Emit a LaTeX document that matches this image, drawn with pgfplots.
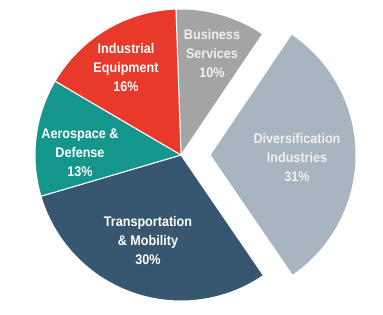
\documentclass[border=0pt]{standalone}
\usepackage{pgfplots}
\pgfplotsset{compat=1.18}
\usepackage{fontspec}
\setmainfont{Liberation Sans}[FakeStretch=0.9]
\definecolor{cBus}{HTML}{A4A4A4}
\definecolor{cDiv}{HTML}{A8B4C0}
\definecolor{cTra}{HTML}{36576F}
\definecolor{cAer}{HTML}{14968D}
\definecolor{cInd}{HTML}{E8392B}
\tikzset{lbl/.style={text=white,align=center,font=\bfseries\fontsize{14}{19}\selectfont}}
\begin{document}
\begin{tikzpicture}
\def\pBus{10}\def\pDiv{31}\def\pTra{30}\def\pAer{13}\def\pInd{16}
\pgfmathsetmacro\aA{92}
\pgfmathsetmacro\aB{\aA-3.6*\pBus}
\pgfmathsetmacro\aC{\aB-3.6*\pDiv}
\pgfmathsetmacro\aD{\aC-3.6*\pTra}
\pgfmathsetmacro\aE{\aD-3.6*\pAer}
\pgfmathsetmacro\aF{\aE-3.6*\pInd}
\begin{axis}[width=383pt,height=314pt,scale only axis,
  xmin=0,xmax=383,ymin=0,ymax=314,hide axis,clip=false,
  every axis plot/.append style={draw=white,line width=1pt,samples=80,variable=\t,line join=round}]
\addplot[fill=cBus,domain=\aB:\aA] ({181+146*cos(\t)},{159+146*sin(\t)}) -- (axis cs:181,159) -- cycle;
\addplot[fill=cDiv,domain=\aC:\aB] ({210+146*cos(\t)},{159+146*sin(\t)}) -- (axis cs:210,159) -- cycle;
\addplot[fill=cTra,domain=\aD:\aC] ({181+146*cos(\t)},{159+146*sin(\t)}) -- (axis cs:181,159) -- cycle;
\addplot[fill=cAer,domain=\aE:\aD] ({181+146*cos(\t)},{159+146*sin(\t)}) -- (axis cs:181,159) -- cycle;
\addplot[fill=cInd,domain=\aF:\aE] ({181+146*cos(\t)},{159+146*sin(\t)}) -- (axis cs:181,159) -- cycle;
\node[lbl] at (axis cs:126,247) {Industrial\\Equipment\\16\%};
\node[lbl,text=white!94!black] at (axis cs:212,261) {Business\\Services\\10\%};
\node[lbl] at (axis cs:80,161) {Aerospace \&\\Defense\\13\%};
\node[lbl,text=white!94!black] at (axis cs:297,156) {Diversification\\Industries\\31\%};
\node[lbl] at (axis cs:148,73) {Transportation\\\& Mobility\\30\%};
\end{axis}
\path (current axis.south west) rectangle (current axis.north east);
\end{tikzpicture}
\end{document}
